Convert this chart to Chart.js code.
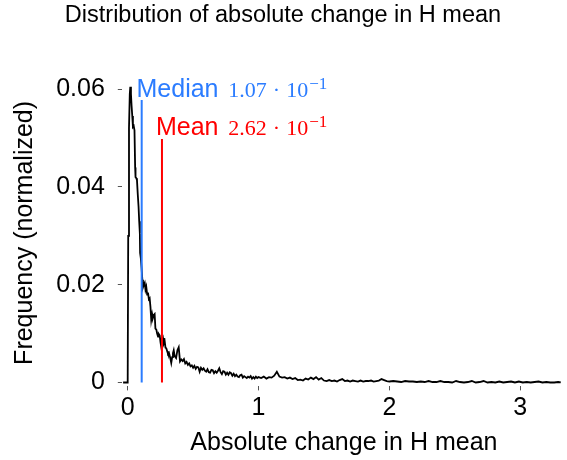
<!DOCTYPE html>
<html>
<head>
<meta charset="utf-8">
<title>Distribution of absolute change in H mean</title>
<script src="https://cdn.jsdelivr.net/npm/chart.js@4/dist/chart.umd.min.js"></script>
<style>
  html, body { margin: 0; padding: 0; background: #fff; }
  #wrap { width: 567px; height: 460px; }
</style>
</head>
<body>
<div id="wrap"><canvas id="chartCanvas" width="567" height="460"></canvas></div>
<script>
/********** DATA **********/
// bin positions (absolute change in H mean)
const binX = [
  -0.035, 0.000, 0.004, 0.010, 0.016, 0.020, 0.025, 0.030, 0.035, 0.040,
  0.046, 0.052, 0.057, 0.060, 0.066, 0.071, 0.077, 0.083, 0.088, 0.093,
  0.095, 0.100, 0.106, 0.112, 0.117, 0.123, 0.130, 0.136, 0.142, 0.149,
  0.155, 0.162, 0.168, 0.174, 0.180, 0.187, 0.193, 0.200, 0.206, 0.212,
  0.219, 0.225, 0.232, 0.238, 0.245, 0.251, 0.257, 0.264, 0.270, 0.277,
  0.283, 0.289, 0.295, 0.302, 0.308, 0.315, 0.321, 0.327, 0.333, 0.340,
  0.346, 0.352, 0.359,
  0.37, 0.38, 0.39, 0.40, 0.41, 0.42, 0.43, 0.44, 0.45, 0.46,
  0.47, 0.48, 0.49, 0.50, 0.51, 0.52, 0.53, 0.54, 0.55, 0.56,
  0.57, 0.58, 0.59, 0.60, 0.61, 0.62, 0.63, 0.64, 0.65, 0.66,
  0.67, 0.68, 0.69, 0.70, 0.71, 0.72, 0.73, 0.74, 0.75, 0.76,
  0.77, 0.78, 0.79, 0.80, 0.81, 0.82, 0.83, 0.84, 0.85, 0.86,
  0.87, 0.88, 0.89, 0.90, 0.91, 0.92, 0.93, 0.94, 0.95, 0.96,
  0.97, 0.98, 0.99, 1.00,
  1.02, 1.04, 1.06, 1.08, 1.10, 1.12, 1.14, 1.16, 1.18, 1.20,
  1.22, 1.24, 1.26, 1.28, 1.30, 1.32, 1.34, 1.36, 1.38, 1.40,
  1.42, 1.44, 1.46, 1.48, 1.50, 1.52, 1.54, 1.56, 1.58, 1.60,
  1.62, 1.64, 1.66, 1.68, 1.70, 1.72, 1.74, 1.76, 1.78, 1.80,
  1.82, 1.84, 1.86, 1.88, 1.90, 1.92, 1.94, 1.96, 1.98, 2.00,
  2.03, 2.06, 2.09, 2.12, 2.15, 2.18, 2.21, 2.24, 2.27, 2.30,
  2.33, 2.36, 2.39, 2.42, 2.45, 2.48, 2.51, 2.54, 2.57, 2.60,
  2.63, 2.66, 2.69, 2.72, 2.75, 2.78, 2.81, 2.84, 2.87, 2.90,
  2.93, 2.96, 2.99, 3.02, 3.05, 3.08, 3.11, 3.14, 3.17, 3.20,
  3.23, 3.26, 3.29, 3.31
];

// normalized frequency for each bin
const freq = [
  0.0000, 0.0000, 0.0300, 0.0520, 0.0590, 0.0605, 0.0590, 0.0565, 0.0545, 0.0523,
  0.0525, 0.0516, 0.0440, 0.0420, 0.0418, 0.0414, 0.0385, 0.0360, 0.0330, 0.0305,
  0.0265, 0.0255, 0.0235, 0.0210, 0.0195, 0.0200, 0.0204, 0.0190, 0.0196, 0.0180,
  0.0184, 0.0170, 0.0172, 0.0155, 0.0128, 0.0140, 0.0132, 0.0138, 0.0140, 0.0110,
  0.0108, 0.0100, 0.0094, 0.0099, 0.0096, 0.0082, 0.0072, 0.0086, 0.0091, 0.0080,
  0.0084, 0.0071, 0.0070, 0.0064, 0.0059, 0.0061, 0.0055, 0.0048, 0.0040, 0.0052,
  0.0060, 0.0066, 0.0054,
  0.0050, 0.0066, 0.0072, 0.0043, 0.0047, 0.0044, 0.0048, 0.0039, 0.0042, 0.0036,
  0.0039, 0.0033, 0.0035, 0.0030, 0.0034, 0.0028, 0.0032, 0.0031, 0.0022, 0.0030,
  0.0026, 0.0029, 0.0024, 0.0022, 0.0027, 0.0021, 0.0020, 0.0026, 0.0025, 0.0019,
  0.0023, 0.0020, 0.0024, 0.0029, 0.0021, 0.0017, 0.0023, 0.0022, 0.0016, 0.0020,
  0.0016, 0.0021, 0.0019, 0.0014, 0.0018, 0.0013, 0.0016, 0.0012, 0.0011, 0.0015,
  0.0016, 0.0010, 0.0013, 0.0011, 0.0009, 0.0012, 0.0010, 0.0013, 0.0008, 0.0011,
  0.0008, 0.0012, 0.0009, 0.0011,
  0.0009, 0.0012, 0.0008, 0.0011, 0.0010, 0.0014, 0.0022, 0.0012, 0.0010, 0.0011,
  0.0008, 0.0010, 0.0007, 0.0009, 0.0005, 0.0006, 0.0004, 0.0008, 0.0006, 0.0010,
  0.0007, 0.0011, 0.0006, 0.0009, 0.0004, 0.0003, 0.0005, 0.0003, 0.0004, 0.0002,
  0.0005, 0.0007, 0.0003, 0.0004, 0.0002, 0.0004, 0.0003, 0.0002, 0.0004, 0.0002,
  0.0003, 0.0003, 0.0004, 0.0002, 0.0003, 0.0004, 0.0007, 0.0005, 0.0003, 0.0002,
  0.0003, 0.0002, 0.0001, 0.0003, 0.0002, 0.0002, 0.0001, 0.0002, 0.0001, 0.0003,
  0.0001, 0.0001, 0.0003, 0.0001, 0.0001, 0.0000, 0.0003, 0.0001, 0.0000, 0.0001,
  0.0003, 0.0000, 0.0001, 0.0003, 0.0000, 0.0001, 0.0000, 0.0002, 0.0000, 0.0001,
  0.0002, 0.0000, 0.0002, 0.0000, 0.0001, 0.0000, 0.0001, 0.0002, 0.0000, 0.0001,
  0.0000, 0.0000, 0.0001, 0.0000
];

// summary statistics and the height of their marker lines
const medianValue = 0.107;
const meanValue = 0.262;
const medianTop = 0.0578;
const meanTop = 0.0498;
const medianText = ["Median", "1.07", "10", "\u22121"];
const meanText = ["Mean", "2.62", "10", "\u22121"];

// axis ticks
const xTickValues = [0, 1, 2, 3];
const xTickLabels = ["0", "1", "2", "3"];
const yTickValues = [0, 0.02, 0.04, 0.06];
const yTickLabels = ["0", "0.02", "0.04", "0.06"];

/********** CHART SETUP **********/
const SANS = '"Liberation Sans", Arial, Helvetica, sans-serif';
const SERIF = '"Liberation Serif", "Times New Roman", serif';
const BLUE = '#2b7cff';
const RED = '#ff0000';

Chart.defaults.font.family = SANS;
Chart.defaults.color = '#000';

const curvePoints = binX.map((x, i) => ({ x: x, y: freq[i] }));

// draws the "Median 1.07·10^-1" style annotations
const statLabels = {
  id: 'statLabels',
  afterDatasetsDraw(chart) {
    const ctx = chart.ctx;
    const xs = chart.scales.x, ys = chart.scales.y;
    const rows = [
      { txt: medianText, y: 0.0585, color: BLUE },
      { txt: meanText, y: 0.0506, color: RED }
    ];
    ctx.save();
    ctx.textBaseline = 'alphabetic';
    rows.forEach(r => {
      const base = ys.getPixelForValue(r.y);
      // word, right aligned
      ctx.fillStyle = r.color;
      ctx.font = '25px ' + SANS;
      ctx.textAlign = 'right';
      ctx.fillText(r.txt[0], xs.getPixelForValue(0.694), base);
      // value in math style
      ctx.textAlign = 'left';
      let px = xs.getPixelForValue(0.769);
      ctx.font = '22px ' + SERIF;
      ctx.fillText(r.txt[1], px, base);
      px += ctx.measureText(r.txt[1]).width + 6;
      ctx.fillText('\u00b7', px, base);
      px += ctx.measureText('\u00b7').width + 6;
      ctx.fillText(r.txt[2], px, base);
      px += ctx.measureText(r.txt[2]).width + 1;
      ctx.font = '17px ' + SERIF;
      ctx.fillText(r.txt[3], px, base - 8);
    });
    ctx.restore();
  }
};

const ctx = document.getElementById("chartCanvas").getContext("2d");
const chartInstance = new Chart(ctx, {
  type: 'scatter',
  data: {
    datasets: [
      {
        label: 'Frequency',
        data: curvePoints,
        showLine: true,
        borderColor: '#000',
        borderWidth: 1.8,
        pointRadius: 0,
        tension: 0,
        order: 2
      },
      {
        label: 'Median',
        data: [{ x: medianValue, y: 0 }, { x: medianValue, y: medianTop }],
        showLine: true,
        borderColor: BLUE,
        borderWidth: 2,
        pointRadius: 0,
        order: 1
      },
      {
        label: 'Mean',
        data: [{ x: meanValue, y: 0 }, { x: meanValue, y: meanTop }],
        showLine: true,
        borderColor: RED,
        borderWidth: 2,
        pointRadius: 0,
        order: 1
      }
    ]
  },
  options: {
    responsive: false,
    animation: false,
    devicePixelRatio: 1,
    layout: { padding: { top: 0, right: 1, bottom: 0, left: 0 } },
    plugins: {
      legend: { display: false },
      tooltip: { enabled: false },
      title: {
        display: true,
        text: 'Distribution of absolute change in H mean',
        color: '#000',
        font: { size: 23.5, weight: 'normal', family: SANS },
        padding: { top: 1, bottom: 50.2 }
      }
    },
    scales: {
      x: {
        type: 'linear',
        min: -0.045,
        max: 3.35,
        afterBuildTicks(s) { s.ticks = xTickValues.map(v => ({ value: v })); },
        afterFit(s) { s.height = 73.6; },
        ticks: {
          padding: 3,
          maxRotation: 0,
          font: { size: 25 },
          color: '#000',
          callback: (v) => xTickLabels[xTickValues.indexOf(v)]
        },
        grid: { drawOnChartArea: false, drawTicks: true, tickLength: 4, color: '#555', lineWidth: 1 },
        border: { display: false },
        title: {
          display: true,
          text: 'Absolute change in H mean',
          font: { size: 25 },
          color: '#000',
          padding: { top: 0, bottom: 2 }
        }
      },
      y: {
        type: 'linear',
        min: -0.0008,
        max: 0.062,
        afterBuildTicks(s) { s.ticks = yTickValues.map(v => ({ value: v })); },
        afterFit(s) { s.width = 121.8; },
        ticks: {
          padding: 13,
          font: { size: 25 },
          color: '#000',
          callback: (v) => yTickLabels[yTickValues.indexOf(v)]
        },
        grid: { drawOnChartArea: false, drawTicks: true, tickLength: 4, color: '#555', lineWidth: 1 },
        border: { display: false },
        title: {
          display: true,
          text: 'Frequency (normalized)',
          font: { size: 25 },
          color: '#000',
          padding: { top: 10, bottom: 0 }
        }
      }
    }
  },
  plugins: [statLabels]
});
</script>
</body>
</html>
